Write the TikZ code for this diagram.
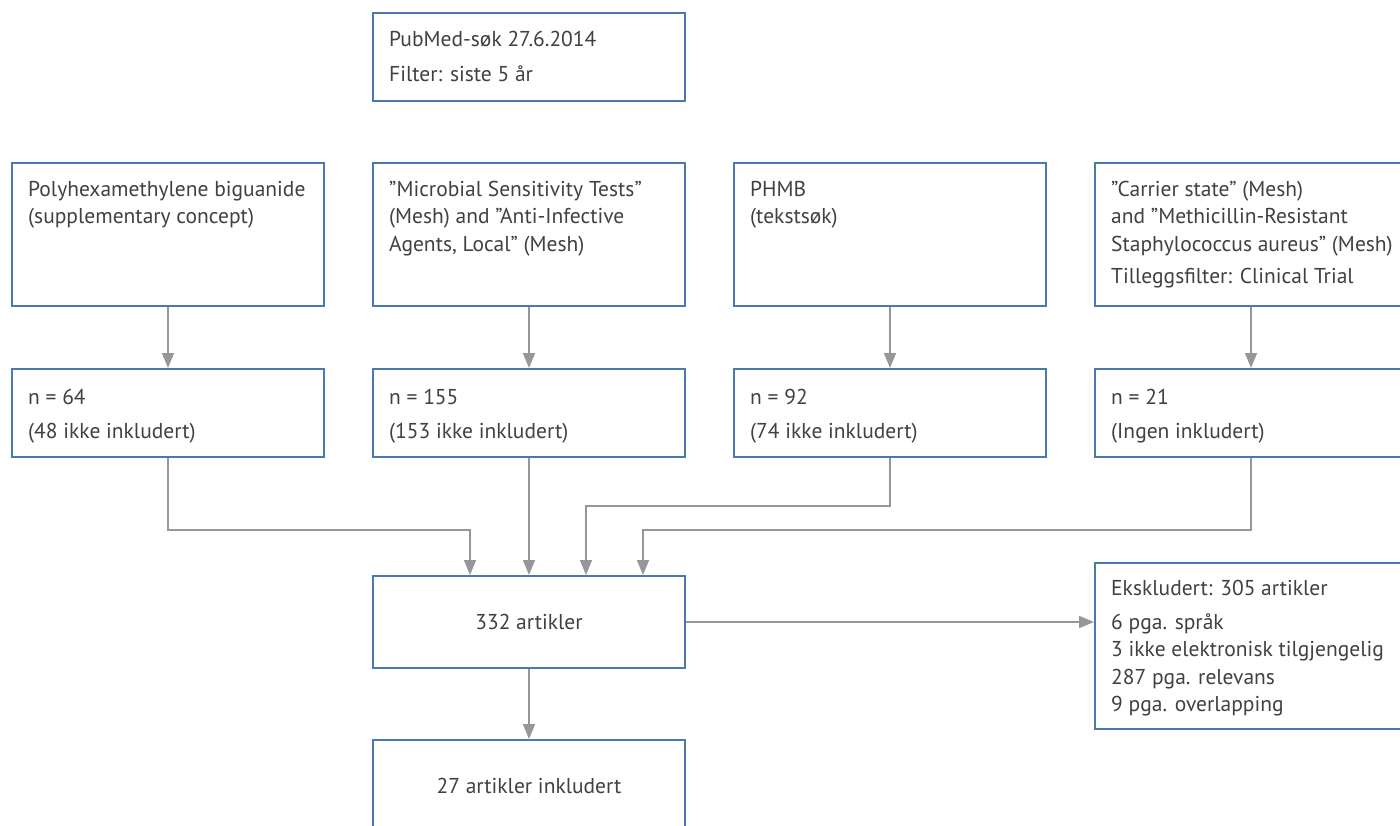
\documentclass[tikz,border=0pt]{standalone}
\usepackage{fontspec}
\setmainfont{PT Sans}
\usetikzlibrary{arrows.meta}
\definecolor{boxblue}{HTML}{4A7AB0}
\definecolor{arrgray}{HTML}{96979B}
\definecolor{txtgray}{HTML}{414141}
\begin{document}
\begin{tikzpicture}[x=1pt,y=-1pt,
  box/.style={draw=boxblue,line width=2pt,fill=white,minimum width=312pt,inner sep=0pt,
    text=txtgray,font=\fontsize{21.5}{27.5}\selectfont},
  txt/.style={anchor=north west,inner sep=0pt,align=left,text=txtgray,
    font=\fontsize{21.5}{27.5}\selectfont},
  arr/.style={draw=arrgray,line width=1.6pt,-{Triangle[width=12pt,length=15pt]}}]
\clip (0,0) rectangle (1400,826);
% top
\node[box,minimum height=88pt] (top) at (529,57) {};
\node[txt] (topt) at ([shift={(17,18)}]top.north west) {\rule{0pt}{16pt}PubMed-søk 27.6.2014\\[7.5pt]Filter: siste 5 år};
% row 1
\node[box,minimum height=143pt] (s1) at (168,234.5) {};
\node[box,minimum height=143pt] (s2) at (529,234.5) {};
\node[box,minimum height=143pt] (s3) at (890,234.5) {};
\node[box,minimum height=143pt] (s4) at (1251,234.5) {};
\node[txt] (s1t) at ([shift={(17,18)}]s1.north west) {\rule{0pt}{16pt}Polyhexamethylene biguanide\\(supplementary concept)};
\node[txt] (s2t) at ([shift={(17,18)}]s2.north west) {\rule{0pt}{16pt}”Microbial Sensitivity Tests”\\(Mesh) and ”Anti-Infective\\Agents, Local” (Mesh)};
\node[txt] (s3t) at ([shift={(17,18)}]s3.north west) {\rule{0pt}{16pt}PHMB\\(tekstsøk)};
\node[txt] (s4t) at ([shift={(17,18)}]s4.north west) {\rule{0pt}{16pt}”Carrier state” (Mesh)\\and ”Methicillin-Resistant\\Staphylococcus aureus” (Mesh)\\[4.5pt]Tilleggsfilter: Clinical Trial};
% row 2
\node[box,minimum height=88pt] (n1) at (168,413) {};
\node[box,minimum height=88pt] (n2) at (529,413) {};
\node[box,minimum height=88pt] (n3) at (890,413) {};
\node[box,minimum height=88pt] (n4) at (1251,413) {};
\node[txt] (n1t) at ([shift={(17,20)}]n1.north west) {\rule{0pt}{16pt}n = 64\\[7pt](48 ikke inkludert)};
\node[txt] (n2t) at ([shift={(17,20)}]n2.north west) {\rule{0pt}{16pt}n = 155\\[7pt](153 ikke inkludert)};
\node[txt] (n3t) at ([shift={(17,20)}]n3.north west) {\rule{0pt}{16pt}n = 92\\[7pt](74 ikke inkludert)};
\node[txt] (n4t) at ([shift={(17,20)}]n4.north west) {\rule{0pt}{16pt}n = 21\\[7pt](Ingen inkludert)};
% merge
\node[box,minimum height=92pt] (p) at (529,622) {332 artikler};
\node[box,minimum height=166pt] (ex) at (1251,646) {};
\node[txt] (ext) at ([shift={(17,17)}]ex.north west) {\rule{0pt}{16pt}Ekskludert: 305 artikler\\[6.5pt]6 pga. språk\\3 ikke elektronisk tilgjengelig\\287 pga. relevans\\9 pga. overlapping};
\node[box,minimum height=92pt] (f) at (529,786) {27 artikler inkludert};
% connectors
\draw[arr] (s1.south) -- (n1.north);
\draw[arr] (s2.south) -- (n2.north);
\draw[arr] (s3.south) -- (n3.north);
\draw[arr] (s4.south) -- (n4.north);
\draw[arr] (n1.south) -- ++(0,72) -| ([xshift=-59pt]p.north);
\draw[arr] (n2.south) -- (p.north);
\draw[arr] (n3.south) -- ++(0,48) -| ([xshift=57pt]p.north);
\draw[arr] (n4.south) -- ++(0,72) -| ([xshift=114pt]p.north);
\draw[arr] (p.east) -- (p.east -| ex.west);
\draw[arr] (p.south) -- (f.north);
\end{tikzpicture}
\end{document}
